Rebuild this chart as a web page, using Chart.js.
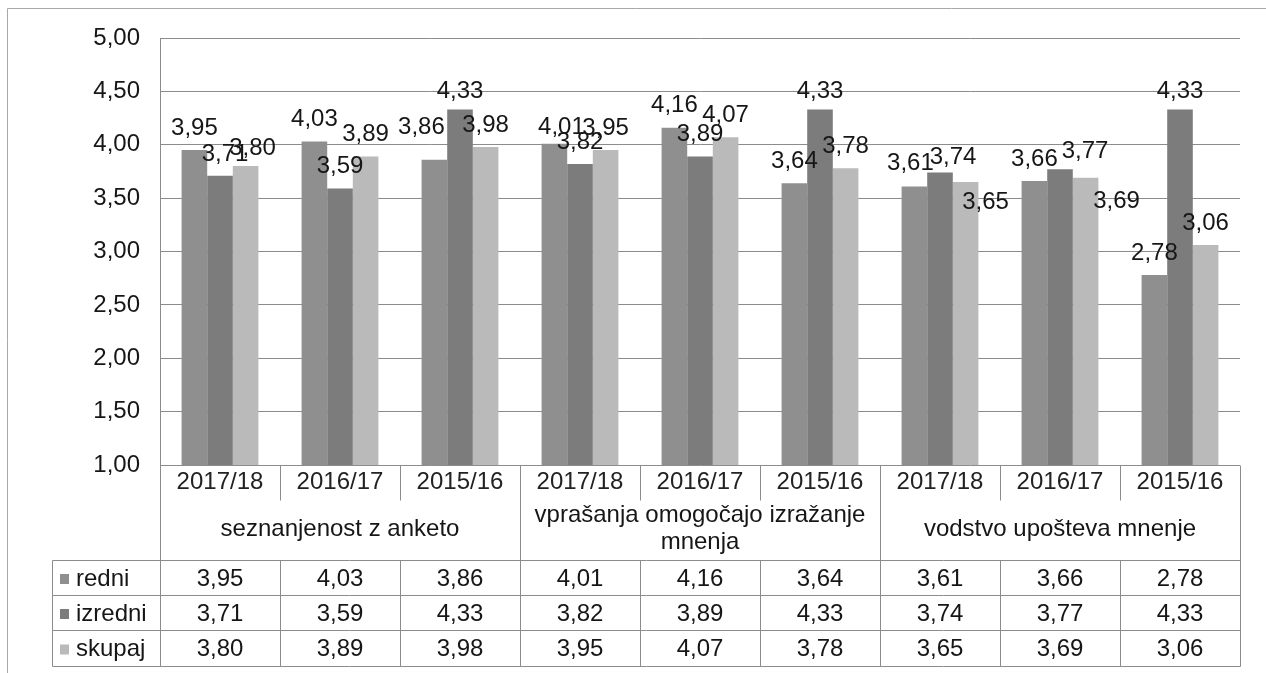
<!DOCTYPE html>
<html>
<head>
<meta charset="utf-8">
<script src="https://cdn.jsdelivr.net/npm/chart.js@4.4.1/dist/chart.umd.min.js"></script>
<style>
  html, body { margin: 0; padding: 0; background: #ffffff; }
  #wrap { width: 1266px; height: 673px; position: relative; }
</style>
</head>
<body>
<div id="wrap"><canvas id="c" width="1266" height="673"></canvas></div>
<script>
// ---- data ----
const years = ['2017/18', '2016/17', '2015/16', '2017/18', '2016/17', '2015/16', '2017/18', '2016/17', '2015/16'];
const groupLabels = [['seznanjenost z anketo'], ['vprašanja omogočajo izražanje', 'mnenja'], ['vodstvo upošteva mnenje']];
const seriesNames = ['redni', 'izredni', 'skupaj'];
const redni   = [3.95, 4.03, 3.86, 4.01, 4.16, 3.64, 3.61, 3.66, 2.78];
const izredni = [3.71, 3.59, 4.33, 3.82, 3.89, 4.33, 3.74, 3.77, 4.33];
const skupaj  = [3.80, 3.89, 3.98, 3.95, 4.07, 3.78, 3.65, 3.69, 3.06];
const yMin = 1, yMax = 5, yStep = 0.5;

// ---- styles ----
const FONT = '"Liberation Sans", Arial, sans-serif';
const FS = 24;
const colors = ['#8f8f8f', '#7c7c7c', '#bababa'];
const lineColor = '#8c8c8c';
const textColor = '#161616';
// manual label nudges (dataset-index : [dx, dy from default])
const labelNudges = {
  '0-2': [-13, -10], '0-3': [7, 6], '0-6': [-4, -1],
  '1-0': [5, 1], '1-2': [0, 4], '1-5': [0, 4], '1-8': [0, 4], '1-6': [13, 7], '1-7': [25, 4],
  '2-0': [7, 4], '2-6': [20, 42], '2-7': [31, 46]
};

const fmt = v => v.toFixed(2).replace('.', ',');

const tablePlugin = {
  id: 'tablePlugin',
  afterDatasetsDraw(chart) {
    const ctx = chart.ctx;
    ctx.save();
    ctx.font = FS + 'px ' + FONT;
    ctx.fillStyle = textColor;
    ctx.textAlign = 'center';
    ctx.textBaseline = 'middle';
    chart.data.datasets.forEach((ds, di) => {
      const meta = chart.getDatasetMeta(di);
      meta.data.forEach((bar, i) => {
        const n = labelNudges[di + '-' + i] || [0, 0];
        ctx.fillText(fmt(ds.data[i]), bar.x + n[0], bar.y - 22 + n[1]);
      });
    });
    ctx.restore();
  },
  afterDraw(chart) {
    const ctx = chart.ctx;
    const xs = chart.scales.x;
    const area = chart.chartArea;
    const n = years.length;
    const step = (area.right - area.left) / n;
    const bnd = i => Math.round(area.left + step * i) + 0.5;
    const yAxis = Math.round(area.bottom) + 0.5;
    const yLabelRow = 500.5;
    const rows = [560.5, 595.5, 630.5, 666.5];
    const tableLeft = 52.5;

    ctx.save();
    // outer frame (left/top)
    ctx.strokeStyle = '#a8a8a8';
    ctx.lineWidth = 1;
    ctx.beginPath();
    ctx.moveTo(7.5, 673); ctx.lineTo(7.5, 8.5); ctx.lineTo(1266, 8.5);
    ctx.stroke();

    ctx.strokeStyle = lineColor;
    ctx.beginPath();
    // left axis continuing down
    ctx.moveTo(bnd(0), area.top); ctx.lineTo(bnd(0), rows[3]);
    // right border of label/table
    ctx.moveTo(bnd(n), yAxis); ctx.lineTo(bnd(n), rows[3]);
    // category separators
    for (let i = 1; i < n; i++) {
      if (i % 3 === 0) {
        ctx.moveTo(bnd(i), yAxis); ctx.lineTo(bnd(i), rows[3]);
      } else {
        ctx.moveTo(bnd(i), yAxis); ctx.lineTo(bnd(i), yLabelRow);
        ctx.moveTo(bnd(i), rows[0]); ctx.lineTo(bnd(i), rows[3]);
      }
    }
    // table rows
    rows.forEach(y => { ctx.moveTo(tableLeft, y); ctx.lineTo(bnd(n), y); });
    ctx.moveTo(tableLeft, rows[0]); ctx.lineTo(tableLeft, rows[3]);
    ctx.stroke();

    // group labels
    ctx.font = FS + 'px ' + FONT;
    ctx.fillStyle = textColor;
    ctx.textAlign = 'center';
    ctx.textBaseline = 'middle';
    groupLabels.forEach((lines, g) => {
      const cx = (xs.getPixelForValue(g * 3) + xs.getPixelForValue(g * 3 + 2)) / 2;
      const mid = 529;
      const lh = 27;
      lines.forEach((t, k) => {
        ctx.fillText(t, cx, mid + (k - (lines.length - 1) / 2) * lh);
      });
    });

    // table values
    const allSeries = chart.data.datasets;
    allSeries.forEach((ds, di) => {
      const cy = (rows[di] + rows[di + 1]) / 2 + 1;
      ds.data.forEach((v, i) => {
        ctx.fillText(fmt(v), xs.getPixelForValue(i), cy);
      });
      // legend key
      ctx.fillStyle = colors[di];
      ctx.fillRect(60, cy - 5, 9, 10);
      ctx.fillStyle = textColor;
      ctx.textAlign = 'left';
      ctx.fillText(ds.label, 76, cy);
      ctx.textAlign = 'center';
    });
    ctx.restore();
  }
};

new Chart(document.getElementById('c'), {
  type: 'bar',
  data: {
    labels: years,
    datasets: [
      { label: seriesNames[0], data: redni, backgroundColor: colors[0] },
      { label: seriesNames[1], data: izredni, backgroundColor: colors[1] },
      { label: seriesNames[2], data: skupaj, backgroundColor: colors[2] }
    ]
  },
  options: {
    responsive: false,
    animation: false,
    devicePixelRatio: 1,
    layout: { padding: { top: 38, right: 26, left: 0, bottom: 0 } },
    categoryPercentage: 0.64,
    barPercentage: 1.0,
    plugins: { legend: { display: false }, tooltip: { enabled: false } },
    scales: {
      x: {
        grid: { display: false, drawTicks: false },
        border: { display: false },
        ticks: { font: { family: FONT, size: FS }, color: '#222', padding: 3, maxRotation: 0, autoSkip: false },
        afterFit(scale) { scale.height = 208; }
      },
      y: {
        min: yMin, max: yMax,
        grid: { color: lineColor, drawTicks: false },
        border: { display: true, color: lineColor },
        ticks: {
          stepSize: yStep,
          padding: 20,
          font: { family: FONT, size: FS },
          color: textColor,
          callback: v => fmt(v)
        },
        afterFit(scale) { scale.width = 160; }
      }
    }
  },
  plugins: [tablePlugin]
});
</script>
</body>
</html>
